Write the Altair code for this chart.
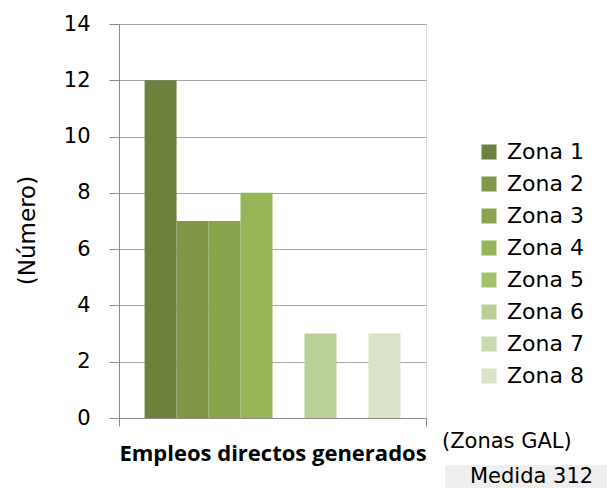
import altair as alt
import pandas as pd

zonas = ["Zona 1", "Zona 2", "Zona 3", "Zona 4", "Zona 5", "Zona 6", "Zona 7", "Zona 8"]
valores = [12, 7, 7, 8, 0, 3, 0, 3]
colores = ["#6b813c", "#7f9746", "#8aa44e", "#97b457", "#a4c06c", "#bbcf98", "#c9d9b0", "#d9e3c8"]
categoria = "Empleos directos generados"

df = pd.DataFrame({"cat": [categoria] * len(zonas), "zona": zonas, "valor": valores})

FONT = "DejaVu Sans"
BOLD = "Open Sans"

bars = alt.Chart(df).mark_bar(stroke=None).encode(
    x=alt.X("cat:N", title=None,
            scale=alt.Scale(paddingInner=0, paddingOuter=0),
            axis=alt.Axis(labelAngle=0, labelFont=BOLD, labelFontSize=22, labelFontWeight="bold",
                          labelColor="#000000", labelPadding=17, labelLimit=0, tickBand="extent",
                          tickSize=8, grid=False, tickColor="#8c8c8c", domainColor="#8c8c8c")),
    xOffset=alt.XOffset("zona:N", sort=zonas,
                        scale=alt.Scale(paddingInner=0, paddingOuter=0.8)),
    y=alt.Y("valor:Q", title="(Número)",
            scale=alt.Scale(domain=[0, 14]),
            axis=alt.Axis(values=list(range(0, 15, 2)), labelFont=FONT, labelFontSize=21,
                          labelColor="#000000", labelPadding=19, tickSize=10, tickColor="#8c8c8c",
                          domainColor="#8c8c8c", gridColor="#a6a6a6", titleFont=FONT,
                          titleFontSize=23, titleFontWeight="normal", titleColor="#000000",
                          titlePadding=24, titleY=206)),
    color=alt.Color("zona:N", sort=zonas,
                    scale=alt.Scale(domain=zonas, range=colores),
                    legend=alt.Legend(title=None, orient="none", legendX=359, legendY=117,
                                      symbolType="square", symbolSize=225, symbolStrokeWidth=0,
                                      labelFont=FONT, labelFontSize=22, labelColor="#000000",
                                      rowPadding=10, labelOffset=7)),
)

zonas_gal = alt.Chart(pd.DataFrame({"t": ["(Zonas GAL)"]})).mark_text(
    font=FONT, fontSize=21, align="left", baseline="middle", color="#000000"
).encode(x=alt.value(323), y=alt.value(418), text="t:N")

caja = alt.Chart(pd.DataFrame({"t": ["Medida 312"]})).mark_rect(color="#efefef").encode(
    x=alt.value(326), x2=alt.value(488), y=alt.value(441), y2=alt.value(464))

medida = alt.Chart(pd.DataFrame({"t": ["Medida 312"]})).mark_text(
    font=FONT, fontSize=21, align="left", baseline="middle", color="#000000"
).encode(x=alt.value(351), y=alt.value(453), text="t:N")

chart = alt.layer(bars, zonas_gal, caja, medida).properties(
    width=307, height=394,
    padding={"left": 111, "top": 16, "right": 181, "bottom": 70},
    autosize=alt.AutoSizeParams(type="none"),
).configure_view(stroke=None).configure(background="#ffffff")

chart.save("out.html", embed_options={"renderer": "svg", "actions": False})
